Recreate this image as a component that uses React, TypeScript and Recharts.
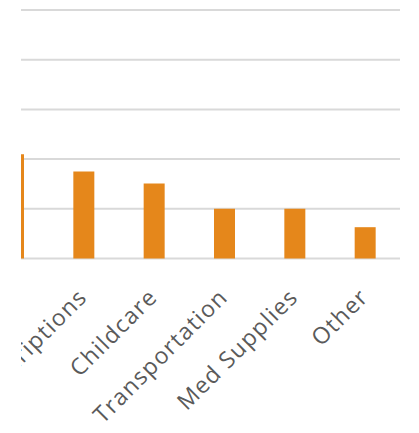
import { BarChart, Bar, XAxis, YAxis, CartesianGrid } from "recharts";

const categories = ["Food", "Prescriptions", "Childcare", "Transportation", "Med Supplies", "Other"];
const costs = [2.1, 1.75, 1.51, 1.0, 1.0, 0.63];
const yTicks = [0, 1, 2, 3, 4, 5];

const chartData = categories.map((name, i) => ({ name, cost: costs[i] }));

function SlantedTick({ x, y, payload }: any) {
  return (
    <g transform={`translate(${x + 5},${y + 32})`}>
      <text
        x={0}
        y={0}
        transform="rotate(-45)"
        textAnchor="end"
        fill="#5a5a5a"
        fontSize={23}
        letterSpacing={1.3}
        fontFamily="'Open Sans', sans-serif"
      >
        {payload.value}
      </text>
    </g>
  );
}

export default function App() {
  return (
    <div style={{ position: "fixed", left: 0, top: 0, width: 419, height: 433, background: "#fff" }}>
      <div style={{ position: "absolute", left: 21, top: 0, width: 398, height: 433, overflow: "hidden" }}>
        <div style={{ position: "absolute", left: -71, top: 0 }}>
          <BarChart
            width={450}
            height={433}
            data={chartData}
            margin={{ top: 10, right: 0, left: 28, bottom: 0 }}
          >
            <CartesianGrid vertical={false} stroke="#d9d9d9" strokeWidth={2} />
            <XAxis
              dataKey="name"
              axisLine={false}
              tickLine={false}
              interval={0}
              height={174.5}
              tick={<SlantedTick />}
            />
            <YAxis hide domain={[0, 5]} ticks={yTicks} />
            <Bar dataKey="cost" fill="#e5871b" barSize={21} isAnimationActive={false} />
          </BarChart>
        </div>
      </div>
    </div>
  );
}
